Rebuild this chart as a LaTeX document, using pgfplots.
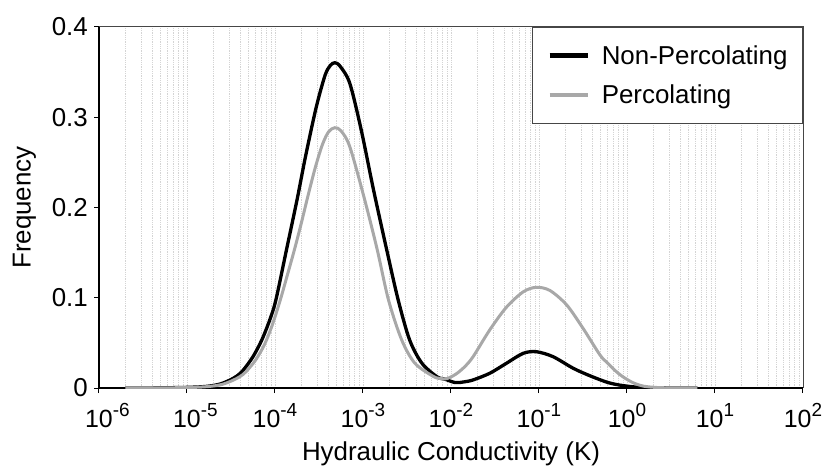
\documentclass[border=0pt]{standalone}
\usepackage{pgfplots}
\pgfplotsset{compat=1.18}
\usepackage{fontspec}
\setmainfont{Liberation Sans}
\definecolor{pgrey}{RGB}{168,168,168}
\definecolor{gridc}{RGB}{212,212,212}
\definecolor{framec}{RGB}{70,70,70}
\newcommand{\tl}[1]{10\raisebox{11bp}{\fontsize{19}{19}\selectfont #1}}
\newcommand{\tll}[1]{10\rlap{\raisebox{11bp}{\fontsize{19}{19}\selectfont #1}}}
\begin{document}
\begin{tikzpicture}
\begin{axis}[
  name=ax,
  width=704bp, height=361bp, scale only axis,
  xmode=log, xmin=1e-6, xmax=1e2,
  ymin=0, ymax=0.4,
  axis lines*=left,
  axis line style={black, line width=1.3bp},
  tick align=outside,
  major tick length=5bp,
  minor tick length=0bp,
  tick style={black, line width=1bp},
  xtick={1e-6,1e-5,1e-4,1e-3,1e-2,1e-1,1,10,100},
  xticklabels={\tll{-6},\tll{-5},\tl{-4},\tl{-3},\tl{-2},\tl{-1},\tl{0},\tl{1},\tl{2}},
  ytick={0,0.1,0.2,0.3,0.4},
  yticklabels={0,0.1,0.2,0.3,0.4},
  xticklabel style={font=\fontsize{25}{25}\selectfont, anchor=base, inner sep=0pt, yshift=-34bp},
  yticklabel style={font=\fontsize{26}{26}\selectfont, anchor=east, inner sep=0pt, xshift=-6bp},
  xmajorgrids, xminorgrids,
  major grid style={gridc, line width=0.8bp, densely dotted},
  minor grid style={gridc, line width=0.8bp, densely dotted},
  xlabel={Hydraulic Conductivity (K)},
  ylabel={Frequency},
  label style={font=\fontsize{26}{26}\selectfont},
  xlabel style={at={(axis description cs:0.5,-0.2022)}, anchor=base},
  ylabel style={at={(axis description cs:-0.0972,0.5)}, anchor=base},
  legend style={at={(1,1)}, anchor=north east, draw=framec, line width=1bp, fill=white,
    font=\fontsize{26}{26}\selectfont, inner xsep=15bp, inner ysep=18bp,
    row sep=19bp, column sep=12bp, nodes={inner sep=0bp}},
  legend cell align=left,
  legend image code/.code={\draw[#1, line width=4.5bp] (0bp,0bp) -- (38bp,0bp);},
]
\addplot[black, line width=3.3bp, smooth, tension=0.5] table[x expr={10^(\thisrow{lx})}, y=v] {
lx v
-5.7 0.0000
-5.4 0.0001
-5.2 0.0003
-5.0 0.0007
-4.85 0.0013
-4.74 0.0022
-4.62 0.0045
-4.51 0.0089
-4.43 0.0135
-4.36 0.0199
-4.25 0.0347
-4.15 0.0532
-4.06 0.0753
-3.99 0.0975
-3.87 0.1529
-3.75 0.2083
-3.65 0.2580
-3.53 0.3117
-3.43 0.3468
-3.37 0.3575
-3.32 0.3604
-3.26 0.3565
-3.15 0.3376
-3.02 0.2859
-2.88 0.2194
-2.73 0.1529
-2.60 0.0975
-2.47 0.0532
-2.33 0.0274
-2.16 0.0125
-2.07 0.0098
-1.95 0.0060
-1.85 0.0068
-1.75 0.0089
-1.56 0.0163
-1.37 0.0274
-1.18 0.0384
-1.03 0.0402
-0.84 0.0347
-0.61 0.0218
-0.42 0.0135
-0.23 0.0065
-0.10 0.0035
0.05 0.0015
0.20 0.0005
0.45 0.0001
0.80 0.0000
};
\addlegendentry{Non-Percolating}
\addplot[pgrey, line width=3bp, smooth, tension=0.5] table[x expr={10^(\thisrow{lx})}, y=v] {
lx v
-5.7 0.0000
-5.4 0.0001
-5.2 0.0002
-5.0 0.0005
-4.85 0.0010
-4.72 0.0020
-4.60 0.0040
-4.49 0.0080
-4.40 0.0125
-4.33 0.0180
-4.22 0.0310
-4.12 0.0480
-4.03 0.0700
-3.94 0.0975
-3.86 0.1250
-3.78 0.1529
-3.70 0.1830
-3.62 0.2150
-3.54 0.2450
-3.46 0.2700
-3.39 0.2840
-3.32 0.2884
-3.25 0.2850
-3.15 0.2674
-2.99 0.2120
-2.84 0.1540
-2.71 0.0975
-2.56 0.0532
-2.41 0.0274
-2.20 0.0128
-2.12 0.0106
-2.05 0.0103
-1.95 0.0150
-1.85 0.0230
-1.75 0.0345
-1.56 0.0643
-1.37 0.0895
-1.18 0.1065
-1.03 0.1116
-0.875 0.1080
-0.685 0.0920
-0.50 0.0662
-0.31 0.0370
-0.23 0.0285
-0.12 0.0180
-0.04 0.0120
0.07 0.0058
0.19 0.0020
0.35 0.0005
0.55 0.0001
0.80 0.0000
};
\addlegendentry{Percolating}
\end{axis}
\draw[framec, line width=1bp] (ax.north west) -- (ax.north east) -- (ax.south east);
\pgfresetboundingbox
\path[use as bounding box] ([xshift=-99bp,yshift=-80bp]ax.south west) rectangle ([xshift=20bp,yshift=27bp]ax.north east);
\end{tikzpicture}
\end{document}
